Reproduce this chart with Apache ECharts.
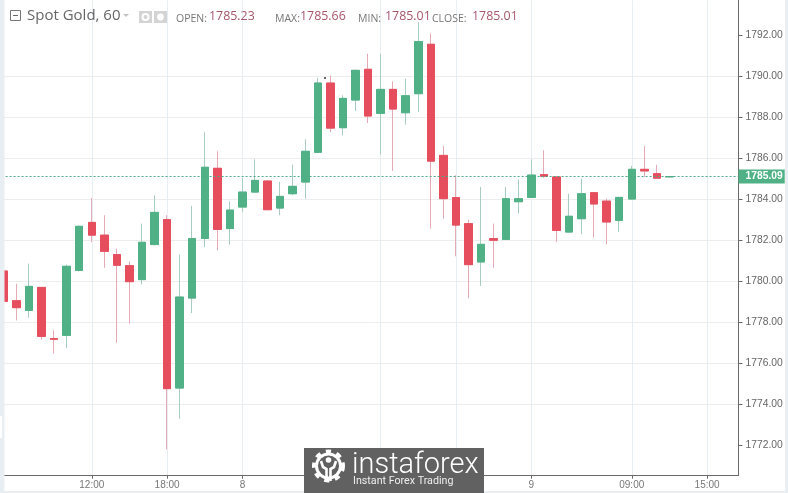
<!DOCTYPE html>
<html>
<head>
<meta charset="utf-8">
<style>
  html, body { margin: 0; padding: 0; background: #fff; }
  #main { width: 788px; height: 493px; }
</style>
<script src="https://cdn.jsdelivr.net/npm/echarts@6/dist/echarts.min.js"></script>
</head>
<body>
<div id="main"></div>
<script>
// hourly bars
const openList = [1780.48, 1779.03, 1778.56, 1779.68, 1777.18, 1777.34, 1780.51, 1782.85, 1782.23, 1781.28, 1780.74, 1780.06, 1781.77, 1782.99, 1774.77, 1779.16, 1782.07, 1785.49, 1782.55, 1783.6, 1784.33, 1784.87, 1783.55, 1784.25, 1784.82, 1786.27, 1789.65, 1787.47, 1788.82, 1790.32, 1788.17, 1789.34, 1788.2, 1789.13, 1791.54, 1786.12, 1784.06, 1782.79, 1780.92, 1782.06, 1782.02, 1783.86, 1784.07, 1785.18, 1785.07, 1782.38, 1783.03, 1784.3, 1783.89, 1782.95, 1783.99, 1785.44, 1785.23, 1785.07];
const closeList = [1779.0, 1778.69, 1779.73, 1777.29, 1777.15, 1780.71, 1782.66, 1782.23, 1781.44, 1780.76, 1779.96, 1781.88, 1783.34, 1774.74, 1779.21, 1782.06, 1785.54, 1782.51, 1783.45, 1784.33, 1784.9, 1783.47, 1784.12, 1784.61, 1786.32, 1789.65, 1787.45, 1788.9, 1790.27, 1788.04, 1789.34, 1788.38, 1789.03, 1791.67, 1785.84, 1784.01, 1782.72, 1780.79, 1781.78, 1781.98, 1784.01, 1784.01, 1785.16, 1785.1, 1782.46, 1783.15, 1784.25, 1783.75, 1782.87, 1784.07, 1785.44, 1785.36, 1785.01, 1785.09];
const lowList = [1779.0, 1778.07, 1778.2, 1777.13, 1776.45, 1776.72, 1780.46, 1781.89, 1780.64, 1776.97, 1777.91, 1779.83, 1781.73, 1771.77, 1773.28, 1778.43, 1781.65, 1781.49, 1781.77, 1783.36, 1784.28, 1783.45, 1783.2, 1784.17, 1784.01, 1786.25, 1787.26, 1787.1, 1788.28, 1787.7, 1786.16, 1785.36, 1787.62, 1788.23, 1782.55, 1783.03, 1781.2, 1779.16, 1779.75, 1780.64, 1782.0, 1783.28, 1784.05, 1785.03, 1781.89, 1782.36, 1782.27, 1782.11, 1781.78, 1782.38, 1783.97, 1785.06, 1785.01, 1785.07];
const highList = [1780.5, 1779.86, 1780.84, 1779.7, 1777.59, 1780.79, 1782.7, 1784.04, 1783.2, 1781.57, 1780.95, 1782.79, 1784.17, 1783.2, 1781.29, 1783.65, 1787.24, 1786.32, 1783.88, 1785.01, 1785.93, 1784.9, 1784.82, 1785.67, 1786.9, 1789.91, 1790.02, 1789.05, 1790.3, 1791.08, 1791.05, 1789.73, 1789.86, 1792.62, 1792.06, 1786.58, 1785.15, 1782.99, 1784.58, 1782.79, 1784.58, 1784.94, 1785.93, 1786.37, 1785.1, 1784.25, 1784.99, 1784.32, 1784.01, 1784.1, 1785.6, 1786.58, 1785.66, 1785.09];

const barSlots = 59;
const xTickIndex = [7, 13, 19, 30, 36, 42, 50, 56];
const xTickLabels = ['12:00', '18:00', '8', '', '', '9', '09:00', '15:00'];
const yTicks = [1772, 1774, 1776, 1778, 1780, 1782, 1784, 1786, 1788, 1790, 1792];
const lastPrice = 1785.09;

const legendItems = [
  { name: 'OPEN:', value: '1785.23', nameX: 176, valueX: 209 },
  { name: 'MAX:', value: '1785.66', nameX: 275, valueX: 300 },
  { name: 'MIN:', value: '1785.01', nameX: 358, valueX: 385 },
  { name: 'CLOSE:', value: '1785.01', nameX: 432, valueX: 472 }
];

const greenColor = '#4fb185';
const redColor = '#e64e5e';
const textFont = '"Open Sans", sans-serif';
const axisFont = '"Liberation Sans", Arial, sans-serif';

const categories = Array.from({ length: barSlots }, (_, i) => {
  const pos = xTickIndex.indexOf(i);
  return pos >= 0 ? xTickLabels[pos] : '';
});
const onTick = (index) => xTickIndex.includes(index);

// first series only paints the pale wicks, second one the solid bodies
const wickData = openList.map((o, i) => [o, closeList[i], lowList[i], highList[i]]);
const bodyData = openList.map((o, i) => [o, closeList[i], Math.min(o, closeList[i]), Math.max(o, closeList[i])]);

function headerGraphics() {
  const items = [
    { type: 'rect', shape: { x: 10.5, y: 10.5, width: 10, height: 10 }, style: { fill: '#fff', stroke: '#777', lineWidth: 1 } },
    { type: 'line', shape: { x1: 13, y1: 15.5, x2: 18, y2: 15.5 }, style: { stroke: '#666', lineWidth: 1 } },
    { type: 'text', x: 27, y: 8, style: { text: 'Spot Gold, 60', font: '15px ' + textFont, fill: '#666' } },
    { type: 'polygon', shape: { points: [[123, 14], [129, 14], [126, 17]] }, style: { fill: '#c4c4c4' } },
    { type: 'rect', shape: { x: 139, y: 11, width: 13, height: 12 }, style: { fill: '#d4d4d4' } },
    { type: 'circle', shape: { cx: 145.5, cy: 17, r: 3 }, style: { fill: '#d4d4d4', stroke: '#fff', lineWidth: 2 } },
    { type: 'rect', shape: { x: 154, y: 11, width: 13, height: 12 }, style: { fill: '#d4d4d4' } },
    { type: 'circle', shape: { cx: 160.5, cy: 17, r: 3.4 }, style: { fill: '#fff' } }
  ];
  legendItems.forEach((item) => {
    items.push({ type: 'text', x: item.nameX, y: 14, style: { text: item.name, font: '10.5px ' + textFont, fill: '#777' } });
    items.push({ type: 'text', x: item.valueX, y: 10.5, style: { text: item.value, font: '12.4px ' + textFont, fill: '#a8566c' } });
  });
  return items;
}

function watermarkGraphics() {
  return [
    { type: 'rect', shape: { x: 304, y: 448, width: 180, height: 45 }, style: { fill: '#616161' } },
    { type: 'circle', shape: { cx: 328.5, cy: 466, r: 14 }, style: { fill: 'none', stroke: '#fff', lineWidth: 5, lineDash: [5, 5.5] } },
    { type: 'circle', shape: { cx: 328.5, cy: 466, r: 12 }, style: { fill: '#616161', stroke: '#fff', lineWidth: 3 } },
    { type: 'circle', shape: { cx: 328.5, cy: 460, r: 2.8 }, style: { fill: '#fff' } },
    { type: 'polyline', shape: { points: [[321, 461], [323, 467], [326.5, 469], [326.5, 481]] }, style: { fill: 'none', stroke: '#fff', lineWidth: 2.6 } },
    { type: 'polyline', shape: { points: [[336, 461], [334, 467], [330.5, 469], [330.5, 481]] }, style: { fill: 'none', stroke: '#fff', lineWidth: 2.6 } },
    { type: 'text', x: 352, y: 451, style: { text: 'instaforex', font: '300 29px Roboto, sans-serif', fill: '#fff' } },
    { type: 'text', x: 353, y: 476, style: { text: 'Instant Forex Trading', font: '10.7px Roboto, sans-serif', fill: '#eee' } }
  ];
}

function frameGraphics() {
  return [
    { type: 'rect', shape: { x: 0, y: 0, width: 4.5, height: 493 }, style: { fill: '#e9eef2' } },
    { type: 'rect', shape: { x: 0, y: 416, width: 2, height: 22 }, style: { fill: '#fff' } },
    { type: 'rect', shape: { x: 785, y: 0, width: 3, height: 493 }, style: { fill: '#e9eef2' } },
    { type: 'rect', shape: { x: 0, y: 491, width: 788, height: 2 }, style: { fill: '#e9eef2' } },
    { type: 'circle', shape: { cx: 325, cy: 78, r: 0.9 }, style: { fill: '#222' } }
  ];
}

const chartDom = document.getElementById('main');
const myChart = echarts.init(chartDom, null, { renderer: 'canvas' });

const option = {
  backgroundColor: '#fff',
  animation: false,
  grid: { left: -2.4, right: 49.5, top: 0.35, bottom: 17.35, outerBoundsMode: 'none' },
  xAxis: {
    type: 'category',
    data: categories,
    axisLine: { show: true, lineStyle: { color: '#6a6a6a', width: 1 } },
    axisTick: { show: true, alignWithLabel: true, interval: onTick, length: 3, lineStyle: { color: '#6a6a6a' } },
    axisLabel: { interval: onTick, color: '#777', fontFamily: axisFont, fontSize: 10, margin: 5 },
    splitLine: { show: true, alignWithLabel: true, interval: onTick, lineStyle: { color: '#e8edf1', width: 1 } }
  },
  yAxis: {
    type: 'value',
    position: 'right',
    scale: true,
    min: 1770.497,
    max: 1793.683,
    interval: 2,
    axisLine: { show: true, lineStyle: { color: '#6a6a6a', width: 1 } },
    axisTick: { show: true, length: 4, customValues: yTicks, lineStyle: { color: '#6a6a6a' } },
    axisLabel: {
      color: '#666',
      fontFamily: axisFont,
      fontSize: 10.3,
      margin: 7,
      padding: [1, 0, 0, 0],
      customValues: yTicks,
      formatter: (value) => value.toFixed(2)
    },
    splitLine: { show: true, showMinLine: false, showMaxLine: false, lineStyle: { color: '#ededed', width: 1 } }
  },
  series: [
    {
      name: 'wick',
      type: 'candlestick',
      barWidth: 8,
      data: wickData,
      itemStyle: { color: greenColor, color0: redColor, borderColor: '#a8ccc0', borderColor0: '#e6aab4', borderWidth: 1 }
    },
    {
      name: 'body',
      type: 'candlestick',
      barWidth: 8,
      data: bodyData,
      itemStyle: { color: greenColor, color0: redColor, borderColor: greenColor, borderColor0: redColor, borderWidth: 1 },
      markLine: {
        symbol: 'none',
        silent: true,
        animation: false,
        data: [{ yAxis: lastPrice }],
        lineStyle: { color: '#4fa988', type: [2, 2], width: 1 },
        label: {
          show: true,
          position: 'end',
          distance: 0,
          formatter: () => lastPrice.toFixed(2),
          color: '#fff',
          fontFamily: axisFont,
          fontSize: 10.3,
          fontWeight: 'bold',
          backgroundColor: greenColor,
          padding: [2, 2, 2, 7]
        }
      }
    }
  ],
  graphic: { elements: [...headerGraphics(), ...frameGraphics(), ...watermarkGraphics()].map((el) => ({ ...el, z: 100 })) }
};

option && myChart.setOption(option);
</script>
</body>
</html>
